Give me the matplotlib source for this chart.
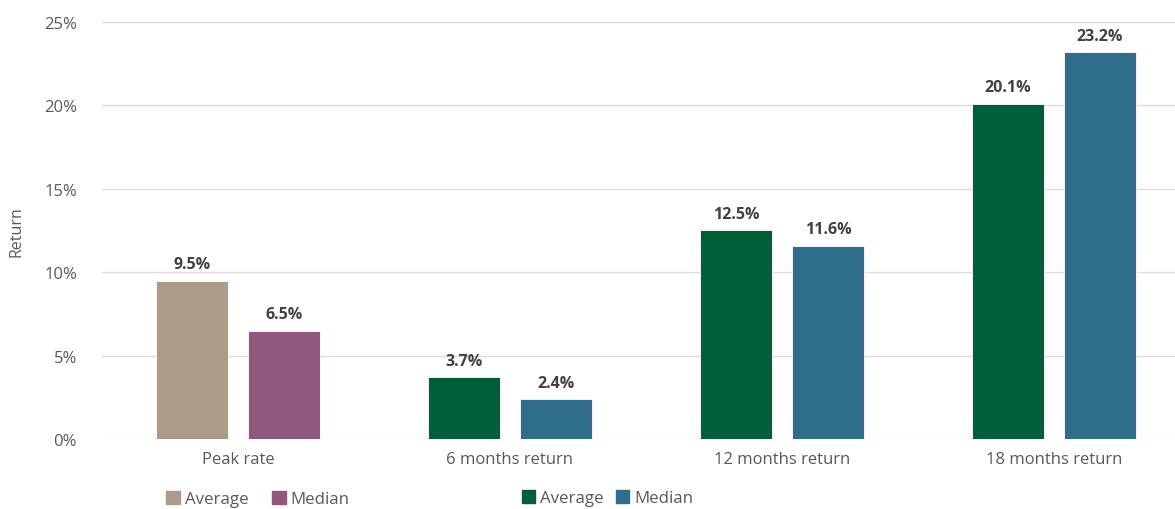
import numpy as np
import matplotlib.pyplot as plt
from matplotlib.patches import Patch
from matplotlib.ticker import FuncFormatter

plt.rcParams['font.family'] = ['Open Sans', 'DejaVu Sans']

categories = ["Peak rate", "6 months return", "12 months return", "18 months return"]
average = [9.5, 3.7, 12.5, 20.1]
median = [6.5, 2.4, 11.6, 23.2]

avg_colors = ["#ab9b88", "#005f3a", "#005f3a", "#005f3a"]
med_colors = ["#91577f", "#2e6d8c", "#2e6d8c", "#2e6d8c"]

fig = plt.figure(figsize=(11.75, 5.1), dpi=100)
ax = fig.add_axes([0.0868, 0.1373, 0.9132, 0.8176])

x = np.arange(len(categories))
w = 0.265
off = 0.169
b1 = ax.bar(x - off, average, w, color=avg_colors, edgecolor="white", linewidth=0.6, zorder=3)
b2 = ax.bar(x + off, median, w, color=med_colors, edgecolor="white", linewidth=0.6, zorder=3)

for bars, vals in [(b1, average), (b2, median)]:
    for b, v in zip(bars, vals):
        ax.annotate(f"{v:.1f}%", (b.get_x() + b.get_width() / 2, v),
                    xytext=(0, 6), textcoords="offset points",
                    ha="center", va="bottom", fontsize=11.5,
                    fontweight="bold", color="#404040")

ax.set_xlim(-0.5, 3.445)
ax.set_ylim(0, 25)
ax.set_yticks(range(0, 26, 5))
ax.yaxis.set_major_formatter(FuncFormatter(lambda v, p: f"{v:.0f}%"))
ax.set_xticks(x)
ax.set_xticklabels(categories)
ax.tick_params(axis="both", length=0, labelsize=12, colors="#595959")
ax.tick_params(axis="x", pad=9)
ax.tick_params(axis="y", pad=18)
ax.grid(axis="y", color="#dcdcdc", linewidth=1.0, zorder=0)
for s in ax.spines.values():
    s.set_visible(False)
ax.set_ylabel("Return", fontsize=11.5, color="#595959", labelpad=14)

leg_kw = dict(loc="center left", ncol=2, frameon=False, fontsize=12.2,
              handlelength=0.8, handleheight=0.8, handletextpad=0.3,
              borderpad=0, borderaxespad=0, labelcolor="#595959")
fig.legend(handles=[Patch(color=avg_colors[0], label="Average"),
                    Patch(color=med_colors[0], label="Median")],
           bbox_to_anchor=(0.1413, 0.0196), columnspacing=1.4, **leg_kw)
fig.legend(handles=[Patch(color=avg_colors[1], label="Average"),
                    Patch(color=med_colors[1], label="Median")],
           bbox_to_anchor=(0.444, 0.0216), columnspacing=0.7, **leg_kw)

fig.savefig("out.png", dpi=100)
